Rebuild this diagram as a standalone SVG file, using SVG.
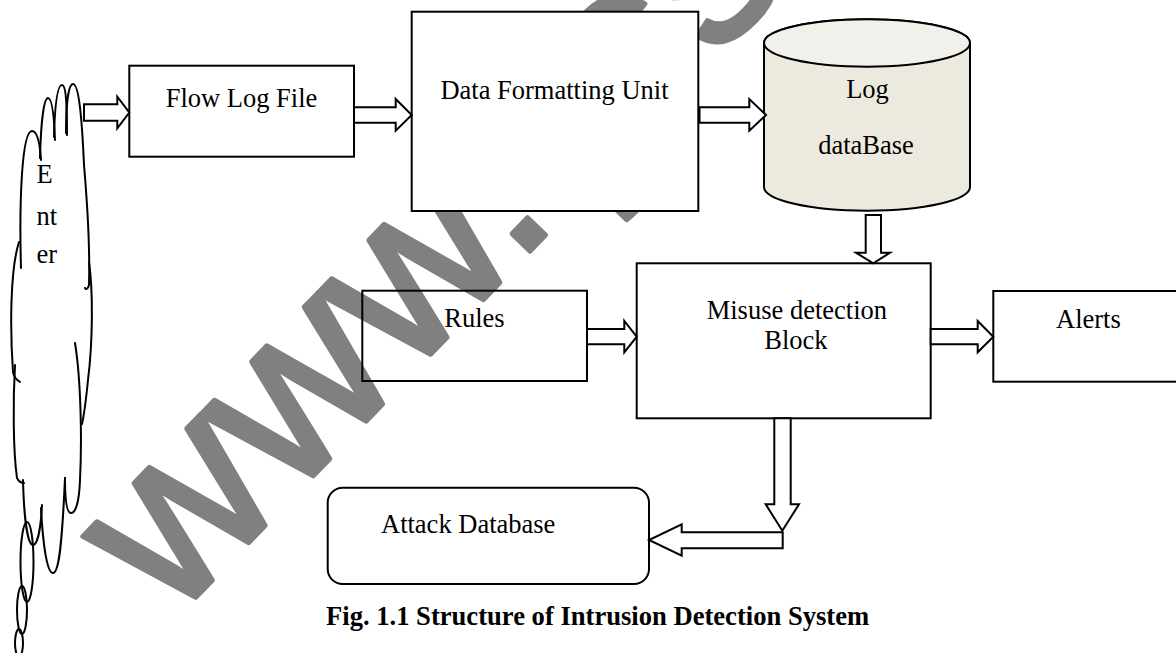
<svg xmlns="http://www.w3.org/2000/svg" width="1176" height="653" viewBox="0 0 1176 653">
  <style>
    .box { fill: #ffffff; stroke: #000000; stroke-width: 2; }
    .open { fill: none; stroke: #000000; stroke-width: 2; }
    .arrow { fill: #ffffff; stroke: #000000; stroke-width: 2; stroke-linejoin: miter; }
    .cl { fill: none; stroke: #000000; stroke-width: 2; stroke-linecap: round; }
    .lbl { font-family: "Liberation Serif", "Times New Roman", serif; font-size: 26.5px; fill: #000000; }
    .cap { font-family: "Liberation Serif", "Times New Roman", serif; font-size: 26.6px; font-weight: bold; fill: #000000; }
    .wm { font-family: "Liberation Sans", Arial, sans-serif; font-size: 234px; fill: #808080; stroke: #808080; stroke-width: 5; stroke-linejoin: round; }
  </style>

  <rect x="0" y="0" width="1176" height="653" fill="#ffffff"/>

  <!-- diagonal grey site mark, partly covered by the boxes drawn after it -->
  <g id="watermark">
    <text class="wm" transform="translate(172,622) rotate(-46)">www.ijcsmc.com</text>
  </g>

  <!-- source cloud -->
  <g id="node-enter">
    <path fill="#ffffff" d="M24,150 L32,131 L40,150 L48,98 L55,130 L62,85 L67,130 L73,84 L84,165 L90,250 L92,320 L82,424 L80,480 L71,513 L65,480 L53,573 L42,508 L33,545 L23,483 L15,470 L13,372 L12,309 L19,244 L23,200 Z"/>
    <path class="cl" d="M21,268 C19,200 22,131 32,131 C38,131 40,145 41,160"/>
    <path class="cl" d="M40,158 C41,120 44,98 48,98 C52,98 54,115 55,140"/>
    <path class="cl" d="M54,137 C55,100 58,85 62,85 C66,85 67,105 67,135"/>
    <path class="cl" d="M66,133 C66,100 69,84 73,84 C79,84 82,120 84,165 C87,200 90,250 89,285 C88,289 86,290 85,288"/>
    <path class="cl" d="M89,262 C93,290 93,340 88,380 C86,400 84,415 82,424"/>
    <path class="cl" d="M75,343 C81,380 82,440 80,480 C79,505 75,513 71,513 C67,513 65,500 65,478"/>
    <path class="cl" d="M19,242 C10,270 10,330 13,372 C14,378 17,380 20,382"/>
    <path class="cl" d="M15,365 C13,400 13,450 17,478 C19,482 21,483 24,483"/>
    <path class="cl" d="M23,480 C24,520 28,545 33,545 C38,545 41,525 42,505"/>
    <path class="cl" d="M41,508 C43,545 47,573 53,573 C59,573 62,545 65,478"/>
    <ellipse class="open" cx="27" cy="562" rx="6.5" ry="40"/>
    <ellipse class="open" cx="22" cy="610" rx="5" ry="24"/>
    <ellipse class="open" cx="19" cy="643" rx="4" ry="14"/>
    <text class="lbl" x="36.5" y="183">E</text>
    <text class="lbl" x="36.5" y="225">nt</text>
    <text class="lbl" x="36.5" y="263">er</text>
  </g>

  <g id="node-flow-log-file">
    <rect class="box" x="129.3" y="65.7" width="224.7" height="91"/>
    <text class="lbl" x="241.5" y="107" text-anchor="middle">Flow Log File</text>
  </g>

  <g id="node-data-formatting">
    <rect class="box" x="411.7" y="11.7" width="286.6" height="199.3"/>
    <text class="lbl" x="554.5" y="99" text-anchor="middle">Data Formatting Unit</text>
  </g>

  <g id="node-log-database">
    <path d="M764,43 A103,23.7 0 0 1 970,43 V187 A103,23.7 0 0 1 764,187 Z" fill="#ECEADF" stroke="#000000" stroke-width="2"/>
    <ellipse cx="867" cy="43" rx="103" ry="23.7" fill="#F1F0EA" stroke="#000000" stroke-width="2"/>
    <text class="lbl" x="867.5" y="98.3" text-anchor="middle">Log</text>
    <text class="lbl" x="866" y="154" text-anchor="middle">dataBase</text>
  </g>

  <g id="node-rules">
    <rect class="open" x="362.3" y="290.7" width="224.7" height="90.3"/>
    <text class="lbl" x="444.3" y="326.7">Rules</text>
  </g>

  <g id="node-misuse-detection">
    <rect class="box" x="636.7" y="263.3" width="294" height="155"/>
    <text class="lbl" x="706.7" y="318.5">Misuse detection</text>
    <text class="lbl" x="764.3" y="348.5">Block</text>
  </g>

  <g id="node-alerts">
    <rect class="box" x="993.3" y="291" width="190" height="90.7"/>
    <text class="lbl" x="1056" y="328.4">Alerts</text>
  </g>

  <g id="node-attack-database">
    <rect class="box" x="327.7" y="487.7" width="321.3" height="96.3" rx="15" ry="15"/>
    <text class="lbl" x="381" y="533.3">Attack Database</text>
  </g>

  <!-- block arrows between the stages -->
  <g id="connectors">
    <path class="arrow" d="M84,104.3 H117.3 V96.7 L129.3,112.5 L117.3,128.3 V120.7 H84 Z"/>
    <path class="arrow" d="M354,107.3 H395.7 V99 L411.7,115 L395.7,130.7 V122.7 H354 Z"/>
    <path class="arrow" d="M699.5,107.3 H749.3 V99 L766,115 L749.3,130.7 V122.7 H699.5 Z"/>
    <path class="arrow" d="M865.7,215 V252.7 H856 L873.3,263.3 L890,252.7 H881 V215 Z"/>
    <path class="arrow" d="M587,329 H624.3 V321 L636.7,336.7 L624.3,352.3 V344.3 H587 Z"/>
    <path class="arrow" d="M930.7,329 H977.7 V321 L993.3,336.7 L977.7,352.3 V344.3 H930.7 Z"/>
    <path class="arrow" d="M774.3,418.3 V504.3 H765.7 L782.3,530.7 L799,504.3 H790.7 V418.3 Z"/>
    <path class="arrow" d="M782.7,532.3 H681.7 V524.3 L649,540 L681.7,555.7 V548.3 H782.7 Z"/>
  </g>

  <g id="caption">
    <text class="cap" x="326" y="625">Fig. 1.1 Structure of Intrusion Detection System</text>
  </g>
</svg>
